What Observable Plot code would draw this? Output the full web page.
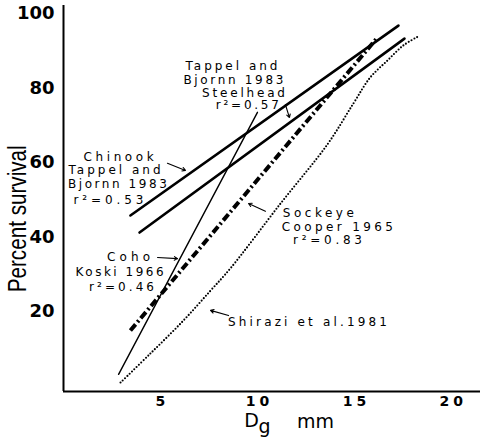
<!DOCTYPE html>
<html><head><meta charset="utf-8">
<script src="https://cdn.jsdelivr.net/npm/d3@7"></script>
<script src="https://cdn.jsdelivr.net/npm/@observablehq/plot@0.6"></script>
<style>
body{margin:0;background:#fff;}
</style>
</head><body><div id="chart"></div>
<script>
// tick labels
const xTicks = [5, 10, 15, 20];
const yTicks = [20, 40, 60, 80, 100];

// series (Dg mm, percent survival)
const chinookX = [3.35, 17.17];
const chinookY = [45.8, 96.8];
const steelheadX = [3.82, 17.48];
const steelheadY = [41.2, 93.3];
const cohoX = [2.74, 9.9];
const cohoY = [3.1, 73.5];
const sockeyeX = [3.35, 16.09];
const sockeyeY = [14.9, 93.6];
const shiraziX = [2.84, 4.38, 6.09, 7.48, 8.51, 11.09, 13.51, 14.85, 15.72, 16.60, 17.43, 18.20];
const shiraziY = [0.9, 8.7, 17.6, 25.6, 31.6, 49.0, 64.9, 75.9, 82.9, 87.4, 91.5, 93.9];

// annotation texts
const labelText = [
  "Tappel and", "Bjornn 1983", "Steelhead", "r²=0.57",
  "Chinook", "Tappel and", "Bjornn 1983", "r²=0.53",
  "Coho", "Koski 1966", "r²=0.46",
  "Sockeye", "Cooper 1965", "r²=0.83",
  "Shirazi et al.1981"
];
// annotation layout (data units for placement, px for text length)
const labelX = [8.56, 8.66, 9.18, 9.38, 2.74, 2.53, 2.68, 2.22, 3.25, 2.79, 2.89, 13.04, 14.02, 13.51, 12.48];
const labelY = [85.8, 82.1, 78.6, 75.3, 61.4, 57.9, 54.1, 49.8, 34.5, 30.5, 26.4, 46.3, 42.6, 39.1, 17.0];
const labelLen = [92, 100, 83, 63, 70, 92, 99, 70, 43, 88, 65, 71, 111, 69, 159];
const arrowX1 = [11.34, 5.26, 4.75, 10.31, 8.41];
const arrowY1 = [75.6, 59.8, 34.5, 46.9, 18.9];
const arrowX2 = [11.55, 6.19, 5.78, 9.44, 7.48];
const arrowY2 = [72.1, 57.9, 34.2, 49.0, 20.3];

const toPts = (xs, ys) => xs.map((x, i) => ({x, y: ys[i]}));
const labels = labelText.map((t, i) => ({t, x: labelX[i], y: labelY[i]}));
const arrows = arrowX1.map((x1, i) => ({x1, y1: arrowY1[i], x2: arrowX2[i], y2: arrowY2[i]}));

const chart = Plot.plot({
  width: 480, height: 438,
  marginLeft: 63, marginRight: 0, marginTop: 5, marginBottom: 47,
  x: {domain: [-0.1, 21.4], label: null},
  y: {domain: [-1.5, 102.2], label: null},
  style: {background: "#fff", color: "#000", overflow: "visible"},
  marks: [
    Plot.ruleX([-0.1], {stroke: "#000", strokeWidth: 2}),
    Plot.ruleY([-1.5], {stroke: "#000", strokeWidth: 2}),
    Plot.axisX(xTicks, {tickSize: 0, tickPadding: 5, fontSize: 14, fontWeight: "bold", fontFamily: "DejaVu Sans", label: null}),
    Plot.axisY(yTicks, {tickSize: 0, tickPadding: 9, fontSize: 18, fontWeight: "bold", fontFamily: "DejaVu Sans", label: null}),
    Plot.line(toPts(chinookX, chinookY), {x: "x", y: "y", stroke: "#000", strokeWidth: 2.6}),
    Plot.line(toPts(steelheadX, steelheadY), {x: "x", y: "y", stroke: "#000", strokeWidth: 2.6}),
    Plot.line(toPts(cohoX, cohoY), {x: "x", y: "y", stroke: "#000", strokeWidth: 1.4}),
    Plot.line(toPts(sockeyeX, sockeyeY), {x: "x", y: "y", stroke: "#000", strokeWidth: 4, strokeDasharray: "8,3,2,3", strokeLinecap: "butt"}),
    Plot.line(toPts(shiraziX, shiraziY), {x: "x", y: "y", curve: "catmull-rom", stroke: "#000", strokeWidth: 2.1, strokeDasharray: "0,3.2", strokeLinecap: "round"}),
    Plot.arrow(arrows, {x1: "x1", y1: "y1", x2: "x2", y2: "y2", stroke: "#000", strokeWidth: 1.1, headLength: 5}),
    Plot.text(labels, {x: "x", y: "y", text: "t", fontFamily: "DejaVu Sans", fontSize: 12, fill: "#000"}),
    Plot.text(["Percent survival"], {x: -2.47, y: 44.9, text: d => d, rotate: -90, fontSize: 26, fontFamily: "Liberation Sans, sans-serif"}),
    Plot.text(["D"], {x: 9.59, y: -9.4, text: d => d, fontSize: 19, fontFamily: "DejaVu Sans"}),
    Plot.text(["g"], {x: 10.26, y: -11.0, text: d => d, fontSize: 19, fontFamily: "DejaVu Sans"}),
    Plot.text(["mm"], {x: 12.89, y: -9.7, text: d => d, fontSize: 19, fontFamily: "DejaVu Sans"})
  ]
});
document.getElementById("chart").appendChild(chart);
const svg = d3.select(chart);
svg.selectAll("text").each(function () {
  if (this.textContent === "Percent survival") {
    d3.select(this).attr("textLength", 147).attr("lengthAdjust", "spacingAndGlyphs");
  }
});
// spread the annotation letters to the reference's widths
let k = 0;
svg.selectAll("text").filter(function () { return this.textContent === labelText[k] ? (k++, true) : false; })
  .each(function (d, i) { d3.select(this).attr("textLength", labelLen[i]).attr("lengthAdjust", "spacing"); });
svg.selectAll('g[aria-label="x-axis tick label"] text').attr("letter-spacing", "4px");
</script>
</body></html>
